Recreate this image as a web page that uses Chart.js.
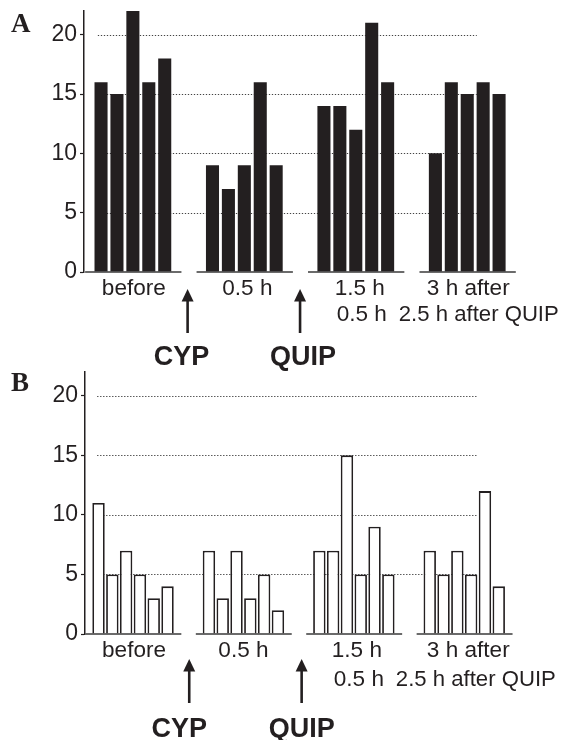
<!DOCTYPE html>
<html>
<head>
<meta charset="utf-8">
<script src="https://cdn.jsdelivr.net/npm/chart.js@4/dist/chart.umd.min.js"></script>
<style>
  html, body { margin: 0; padding: 0; background: #fff; }
  #wrap { position: relative; width: 562px; height: 740px; }
  #wrap canvas { position: absolute; left: 0; top: 0; }
</style>
</head>
<body>
<div id="wrap">
  <canvas id="panelA" width="562" height="740"></canvas>
  <canvas id="panelB" width="562" height="740"></canvas>
</div>
<script>
// Session labels under each group of bars
const groupLabels = ['before', '0.5 h', '1.5 h', '3 h after'];
const secondLine = ['', '', '0.5 h', '2.5 h after QUIP'];
const drugLabels = ['CYP', 'QUIP'];
const tickStep = 5;
const axisMax = 22;

// Panel A: filled bars, one per animal
const beforeA = [16, 15, 22, 16, 18];
const halfHourA = [9, 7, 9, 16, 9];
const ninetyMinA = [14, 14, 12, 21, 16];
const threeHourA = [10, 16, 15, 16, 15];

// Panel B: open bars, one per animal
const beforeB = [11, 5, 7, 5, 3, 4];
const halfHourB = [7, 3, 7, 3, 5, 2];
const ninetyMinB = [7, 7, 15, 5, 9, 5];
const threeHourB = [7, 5, 7, 5, 12, 4];

const SANS = '"Liberation Sans", Arial, Helvetica, sans-serif';
const INK = '#231f20';
const LABEL_FONT = '21.5px ' + SANS;
const LABEL_STRETCH = 1.05;

// Bars of group g sit at slots g*stride + i, leaving empty slots between groups
function toPoints(groups, stride) {
  return groups.flatMap((vals, g) => vals.map((v, i) => ({ x: g * stride + i, y: v })));
}

// Slightly widened sans text for the session labels
function wideText(ctx, text, x, y, align, stretch = LABEL_STRETCH) {
  const w = ctx.measureText(text).width * stretch;
  const left = align === 'center' ? x - w / 2 : x;
  ctx.save();
  ctx.translate(left, y);
  ctx.scale(stretch, 1);
  ctx.textAlign = 'left';
  ctx.fillText(text, 0, 0);
  ctx.restore();
  return left + w;
}

function drawArrow(ctx, x, tipY, tailY) {
  ctx.beginPath();
  ctx.moveTo(x, tailY);
  ctx.lineTo(x, tipY + 10);
  ctx.lineWidth = 2.6;
  ctx.stroke();
  ctx.beginPath();
  ctx.moveTo(x, tipY);
  ctx.lineTo(x - 6, tipY + 12.5);
  ctx.lineTo(x + 6, tipY + 12.5);
  ctx.closePath();
  ctx.fill();
}

function panelDecor(o) {
  return {
    id: 'panelDecor',
    beforeDatasetsDraw(chart) {
      const { ctx, scales: { x, y } } = chart;
      ctx.save();
      ctx.strokeStyle = '#444';
      ctx.lineWidth = 1;
      ctx.setLineDash([1.3, 1.7]);
      for (const t of y.ticks) {
        if (t.value === 0) continue;
        const py = Math.round(y.getPixelForValue(t.value)) + 0.5;
        ctx.beginPath();
        ctx.moveTo(x.getPixelForValue(o.gridFrom), py);
        ctx.lineTo(x.getPixelForValue(o.gridTo), py);
        ctx.stroke();
      }
      ctx.restore();
    },
    afterDatasetsDraw(chart) {
      const { ctx, scales: { x, y } } = chart;
      const base = y.getPixelForValue(0);
      ctx.save();
      // broken baseline, one segment per group
      ctx.strokeStyle = '#3a3a3a';
      ctx.lineWidth = 1.6;
      groupLabels.forEach((_, g) => {
        const first = g * o.stride, last = first + o.perGroup - 1;
        ctx.beginPath();
        ctx.moveTo(x.getPixelForValue(first - o.segLead), base);
        ctx.lineTo(x.getPixelForValue(last + o.segTail), base);
        ctx.stroke();
      });
      ctx.restore();
    },
    afterDraw(chart) {
      const { ctx, scales: { x, y } } = chart;
      const base = y.getPixelForValue(0);
      ctx.save();
      ctx.fillStyle = INK;
      ctx.strokeStyle = INK;
      ctx.textBaseline = 'alphabetic';

      // session labels
      ctx.font = LABEL_FONT;
      const centers = groupLabels.map((_, g) => x.getPixelForValue(g * o.stride + (o.perGroup - 1) / 2));
      groupLabels.forEach((lab, g) => wideText(ctx, lab, centers[g] + o.labelShift[g], base + o.line1, 'center'));
      // second label row
      const c2 = centers[2] + o.labelShift[2] + 2;
      wideText(ctx, secondLine[2], c2, base + o.line2, 'center');
      wideText(ctx, secondLine[3], c2 + 37, base + o.line2, 'left', 1.03);

      // drug application arrows between groups
      ctx.font = 'bold 27px ' + SANS;
      ctx.textAlign = 'center';
      drugLabels.forEach((lab, k) => {
        const lastPrev = k * o.stride + o.perGroup - 1;
        const firstNext = (k + 1) * o.stride;
        const ax = x.getPixelForValue((lastPrev + firstNext) / 2) + o.arrowShift[k];
        drawArrow(ctx, ax, base + o.arrowTip, base + o.arrowTail);
        ctx.fillText(lab, ax + o.textShift[k], base + o.boldBase);
      });

      // panel letter
      ctx.font = 'bold 27px "Liberation Serif", "Times New Roman", serif';
      ctx.textAlign = 'left';
      ctx.fillText(o.letter, 11, o.letterY);
      ctx.restore();
    }
  };
}

function makeChart(id, points, style, o) {
  return new Chart(document.getElementById(id), {
    type: 'bar',
    data: {
      datasets: [{
        data: points,
        backgroundColor: style.fill,
        borderColor: INK,
        borderWidth: style.border,
        borderSkipped: 'start',
        barPercentage: style.barPct,
        categoryPercentage: 1
      }]
    },
    options: {
      responsive: false,
      animation: false,
      devicePixelRatio: 1,
      layout: { padding: { left: 0, top: o.top, right: 562 - o.right, bottom: 740 - o.bottom } },
      plugins: { legend: { display: false }, tooltip: { enabled: false } },
      scales: {
        x: { type: 'linear', min: o.xMin, max: o.xMax, display: false, offset: false },
        y: {
          min: 0,
          max: axisMax,
          afterFit(s) { s.width = o.left; s.paddingTop = 0; s.paddingBottom = 0; },
          border: { display: true, color: INK, width: 1.5 },
          grid: { drawOnChartArea: false, drawTicks: true, tickLength: 4, color: INK, tickWidth: 1.2 },
          ticks: {
            stepSize: tickStep,
            includeBounds: false,
            padding: 3,
            color: INK,
            font: { family: SANS, size: 23 }
          }
        }
      }
    },
    plugins: [panelDecor(o)]
  });
}

makeChart('panelA',
  toPoints([beforeA, halfHourA, ninetyMinA, threeHourA], 7),
  { fill: INK, border: 0, barPct: 0.82 },
  { stride: 7, perGroup: 5, left: 84, right: 515, top: 11, bottom: 272,
    xMin: -1.07, xMax: 26, gridFrom: -0.2, gridTo: 23.6, segLead: 1.0, segTail: 1.05,
    labelShift: [1, 3, 4, 1],
    line1: 23, line2: 49, arrowTip: 17, arrowTail: 61, boldBase: 93,
    arrowShift: [-1, 0], textShift: [-6, 3],
    letter: 'A', letterY: 32 });

makeChart('panelB',
  toPoints([beforeB, halfHourB, ninetyMinB, threeHourB], 8),
  { fill: '#ffffff', border: 1.8, barPct: 0.9 },
  { stride: 8, perGroup: 6, left: 85, right: 512, top: 372, bottom: 634,
    xMin: -0.98, xMax: 29.96, gridFrom: -0.1, gridTo: 27.4, segLead: 0.95, segTail: 1.0,
    labelShift: [1, 0, 3, 4],
    line1: 23, line2: 52, arrowTip: 25, arrowTail: 69, boldBase: 103,
    arrowShift: [1, 3], textShift: [-10, 0],
    letter: 'B', letterY: 391 });
</script>
</body>
</html>
